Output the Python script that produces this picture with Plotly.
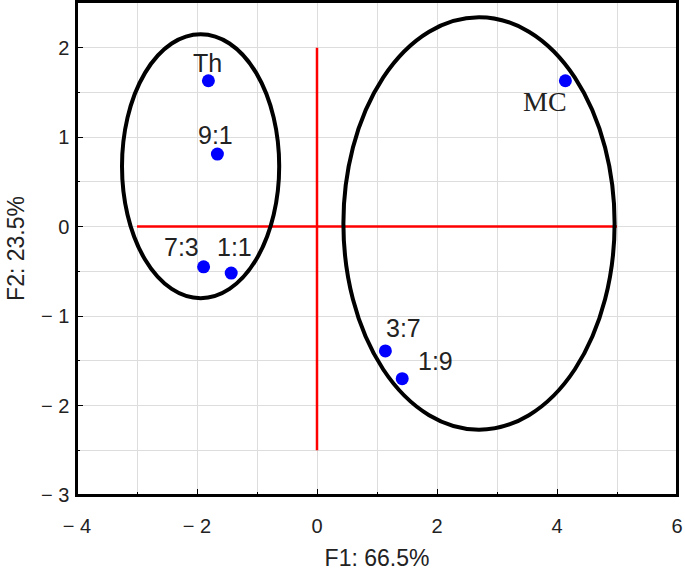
import plotly.graph_objects as go

labels = ["Th", "9:1", "7:3", "1:1", "MC", "3:7", "1:9"]
f1 = [-1.81, -1.66, -1.89, -1.43, 4.14, 1.14, 1.42]
f2 = [1.63, 0.81, -0.45, -0.52, 1.63, -1.39, -1.70]
label_fonts = ["Liberation Sans", "Liberation Sans", "Liberation Sans", "Liberation Sans",
               "Liberation Serif", "Liberation Sans", "Liberation Sans"]
label_dx = [-1, -2, -22, 3, -20, 18, 33]
label_dy = [18, 19, 20, 26, -21, 23, 18]

# ellipses: x0, x1, y0, y1
ell1 = [-3.25, -0.63, -0.80, 2.15]
ell2 = [0.44, 4.96, -2.27, 2.34]
hline = [-3.0, 5.0]
vline = [-2.5, 2.0]

xticks = [-4, -2, 0, 2, 4, 6]
xticktext = ["\u2212 4", "\u2212 2", "0", "2", "4", "6"]
yticks = [-3, -2, -1, 0, 1, 2]
yticktext = ["\u2212 3", "\u2212 2", "\u2212 1", "0", "1", "2"]

fig = go.Figure()
fig.add_trace(go.Scatter(x=hline, y=[0, 0], mode="lines",
                         line=dict(color="red", width=2.5), hoverinfo="skip"))
fig.add_trace(go.Scatter(x=[0, 0], y=vline, mode="lines",
                         line=dict(color="red", width=2.5), hoverinfo="skip"))
fig.add_trace(go.Scatter(x=f1, y=f2, mode="markers",
                         marker=dict(color="#0000ff", size=13), text=labels))

shapes = [dict(type="rect", xref="paper", yref="paper", x0=0, x1=1, y0=0, y1=1,
               line=dict(color="black", width=2), layer="above")]
for e in (ell1, ell2):
    shapes.append(dict(type="circle", xref="x", yref="y", x0=e[0], x1=e[1], y0=e[2], y1=e[3],
                       line=dict(color="black", width=4)))

annotations = []
for lab, x, y, fam, dx, dy in zip(labels, f1, f2, label_fonts, label_dx, label_dy):
    annotations.append(dict(x=x, y=y, text=lab, showarrow=False, xshift=dx, yshift=dy,
                            font=dict(family=fam, size=28 if fam == "Liberation Serif" else 25,
                                      color="#222222")))

fig.update_layout(
    width=685, height=576,
    margin=dict(l=77, r=8, t=2, b=81),
    paper_bgcolor="white", plot_bgcolor="white",
    showlegend=False, shapes=shapes, annotations=annotations,
    font=dict(family="Liberation Sans", size=20, color="#222222"),
)
axis_common = dict(showline=True, linecolor="black", linewidth=1.5, mirror=True,
                   ticks="inside", ticklen=6, tickcolor="black", automargin=False,
                   ticklabeloverflow="allow",
                   showgrid=True, gridcolor="#dddddd", gridwidth=1, zeroline=False,
                   tickfont=dict(family="Liberation Sans", size=20, color="#222222"))
fig.update_xaxes(range=[-4, 6], tickvals=xticks, ticktext=xticktext, ticklabelstandoff=12,
                 title=dict(text="F1: 66.5%", font=dict(size=23), standoff=14),
                 minor=dict(dtick=1, ticks="inside", ticklen=3, tickcolor="black",
                            showgrid=True, gridcolor="#dddddd"),
                 **axis_common)
fig.update_yaxes(range=[-3, 2.51], tickvals=yticks, ticktext=yticktext, ticklabelstandoff=2,
                 title=dict(text="F2: 23.5%", font=dict(size=23), standoff=10),
                 minor=dict(dtick=0.5, ticks="inside", ticklen=3, tickcolor="black",
                            showgrid=True, gridcolor="#dddddd"),
                 **axis_common)

fig.write_html("out.html", config={"displayModeBar": False},
               post_script="document.body.style.margin='0px';")
